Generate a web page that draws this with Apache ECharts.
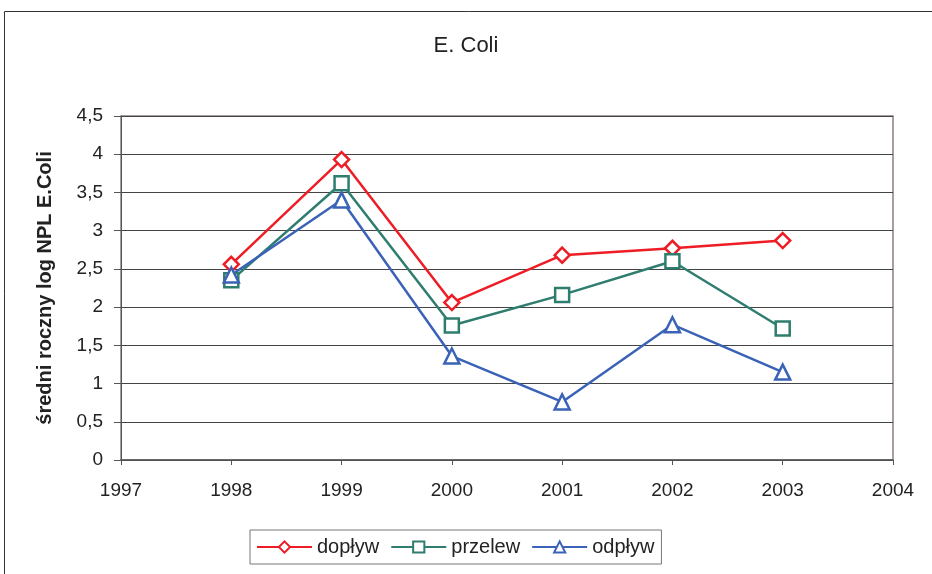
<!DOCTYPE html>
<html>
<head>
<meta charset="utf-8">
<script src="https://cdn.jsdelivr.net/npm/echarts@6/dist/echarts.min.js"></script>
<style>
  html, body { margin: 0; padding: 0; background: #fff; }
  #chart { width: 932px; height: 574px; }
</style>
</head>
<body>
<div id="chart"></div>
<script>
// lata pomiarów
var years = [1998, 1999, 2000, 2001, 2002, 2003]
// średni roczny log NPL E.Coli
var doplyw = [2.56, 3.93, 2.06, 2.68, 2.77, 2.87]
var przelew = [2.35, 3.62, 1.76, 2.16, 2.60, 1.72]
var odplyw = [2.42, 3.40, 1.36, 0.76, 1.77, 1.15]

function pairs (vals) {
  return years.map(function (y, i) { return [y, vals[i]] })
}

var font = 'Liberation Sans, Arial, sans-serif'

function serie (name, data, color, symbol, size) {
  return {
    name: name,
    type: 'line',
    data: pairs(data),
    symbol: symbol,
    symbolSize: size,
    showAllSymbol: true,
    lineStyle: { color: color, width: 2.5 },
    itemStyle: { color: '#fff', borderColor: color, borderWidth: 2.5 },
    emphasis: { disabled: true },
    animation: false
  }
}

var chart = echarts.init(document.getElementById('chart'))
chart.setOption({
  animation: false,
  backgroundColor: '#fff',
  title: {
    text: 'E. Coli',
    left: 'center',
    top: 30,
    textStyle: { fontFamily: font, fontSize: 22, fontWeight: 'normal', color: '#222' }
  },
  graphic: [{
    type: 'rect',
    shape: { x: 4.5, y: 11.5, width: 940, height: 580 },
    style: { fill: 'none', stroke: '#333', lineWidth: 1 },
    silent: true
  }],
  legend: {
    bottom: 10,
    left: 250,
    itemWidth: 55,
    itemHeight: 14,
    itemGap: 11,
    padding: [7, 7, 7, 6],
    borderColor: '#777',
    borderWidth: 1,
    textStyle: { fontFamily: font, fontSize: 20, color: '#222' },
    data: ['dopływ', 'przelew', 'odpływ']
  },
  grid: {
    left: 121,
    right: 39,
    top: 116,
    bottom: 114,
    show: true,
    borderColor: '#8a8080',
    borderWidth: 1.5,
    backgroundColor: '#fff'
  },
  xAxis: {
    type: 'value',
    min: 1997,
    max: 2004,
    interval: 1,
    axisLine: { show: true, onZero: false, lineStyle: { color: '#555', width: 1.5 } },
    axisTick: { show: true, length: 5, lineStyle: { color: '#555' } },
    splitLine: { show: false },
    axisLabel: {
      margin: 21,
      fontFamily: font,
      fontSize: 19,
      color: '#222',
      formatter: function (v) { return String(v) }
    }
  },
  yAxis: {
    type: 'value',
    min: 0,
    max: 4.5,
    interval: 0.5,
    name: 'średni roczny log NPL E.Coli',
    nameLocation: 'middle',
    nameGap: 66,
    nameTextStyle: { fontFamily: font, fontSize: 20, fontWeight: 'bold', color: '#222' },
    axisLine: { show: true, lineStyle: { color: '#555' } },
    axisTick: { show: true, length: 7, lineStyle: { color: '#555' } },
    splitLine: { show: true, lineStyle: { color: '#444', width: 1 } },
    axisLabel: {
      margin: 18,
      fontFamily: font,
      fontSize: 19,
      color: '#222',
      formatter: function (v) { return String(v).replace('.', ',') }
    }
  },
  series: [
    serie('dopływ', doplyw, '#ee1c25', 'diamond', 15),
    serie('przelew', przelew, '#2e7d6e', 'rect', 14),
    serie('odpływ', odplyw, '#3a63b8', 'triangle', 15)
  ]
})
</script>
</body>
</html>
